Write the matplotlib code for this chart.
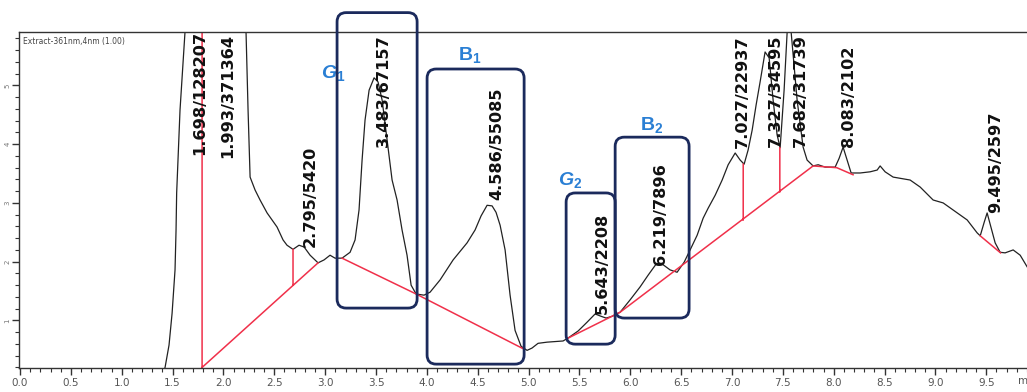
import numpy as np
import matplotlib
matplotlib.use('Agg')
import matplotlib.pyplot as plt
from matplotlib.patches import FancyBboxPatch

plt.rcParams['mathtext.fontset'] = 'custom'
plt.rcParams['mathtext.it'] = 'Liberation Sans:italic:bold'
plt.rcParams['mathtext.rm'] = 'Liberation Sans:bold'
plt.rcParams['mathtext.bf'] = 'Liberation Sans:bold'

# chromatogram trace (time in min, absorbance)
time = [1.377, 1.426, 1.465, 1.495, 1.524, 1.534, 1.54, 1.573, 1.622, 1.672,
        1.698, 1.80, 1.993, 2.193, 2.222, 2.242, 2.262, 2.311, 2.360, 2.429,
        2.527, 2.586, 2.625, 2.684, 2.743, 2.793, 2.852, 2.930, 2.989, 3.048,
        3.097, 3.166, 3.245, 3.294, 3.333, 3.363, 3.392, 3.432, 3.481, 3.520,
        3.560, 3.609, 3.658, 3.707, 3.756, 3.805, 3.845, 3.894, 3.972, 4.031,
        4.130, 4.258, 4.395, 4.474, 4.533, 4.592, 4.641, 4.680, 4.720, 4.769,
        4.818, 4.867, 4.926, 4.985, 5.034, 5.093, 5.182, 5.339, 5.388, 5.487,
        5.575, 5.654, 5.713, 5.762, 5.821, 5.900, 5.998, 6.096, 6.175, 6.254,
        6.313, 6.391, 6.460, 6.529, 6.588, 6.657, 6.716, 6.765, 6.834, 6.903,
        6.962, 7.031, 7.080, 7.119, 7.158, 7.198, 7.237, 7.276, 7.325, 7.365,
        7.404, 7.443, 7.473, 7.512, 7.542, 7.561, 7.581, 7.640, 7.699, 7.738,
        7.797, 7.847, 7.915, 8.014, 8.053, 8.092, 8.132, 8.171, 8.260, 8.358,
        8.427, 8.456, 8.505, 8.584, 8.653, 8.751, 8.850, 8.977, 9.076, 9.174,
        9.312, 9.410, 9.440, 9.479, 9.508, 9.548, 9.587, 9.636, 9.685, 9.764,
        9.833, 9.902, 9.951]
absorb = [-0.02, 0.20, 0.58, 1.12, 1.86, 2.54, 3.17, 4.58, 5.91, 7.48,
          9.5, 7.2, 9.0, 6.80, 5.91, 4.58, 3.44, 3.22, 3.05, 2.83,
          2.59, 2.37, 2.28, 2.21, 2.28, 2.25, 2.11, 1.98, 2.03, 2.11,
          2.06, 2.06, 2.16, 2.37, 2.88, 3.73, 4.41, 4.92, 5.13, 5.06,
          4.75, 4.07, 3.39, 3.05, 2.54, 2.11, 1.60, 1.45, 1.43, 1.48,
          1.69, 2.03, 2.32, 2.54, 2.78, 2.96, 2.95, 2.84, 2.62, 2.20,
          1.43, 0.83, 0.56, 0.49, 0.53, 0.61, 0.63, 0.65, 0.70, 0.82,
          0.97, 1.11, 1.07, 1.04, 1.07, 1.14, 1.35, 1.57, 1.77, 1.96,
          1.96, 1.86, 1.82, 1.99, 2.20, 2.45, 2.74, 2.91, 3.13, 3.39,
          3.65, 3.85, 3.73, 3.66, 3.90, 4.24, 4.67, 5.06, 5.57, 5.47,
          4.75, 4.16, 3.94, 4.92, 5.91, 6.97, 5.91, 4.75, 3.95, 3.73,
          3.63, 3.65, 3.61, 3.61, 3.76, 3.95, 3.73, 3.51, 3.51, 3.53,
          3.56, 3.63, 3.53, 3.44, 3.42, 3.39, 3.27, 3.05, 3.00, 2.88,
          2.71, 2.49, 2.44, 2.67, 2.83, 2.57, 2.32, 2.16, 2.15, 2.20,
          2.11, 1.91, 1.77]

# integration baselines / drop lines (NaN separates segments)
base_t = [1.79, 1.79, np.nan, 1.79, 2.93, np.nan, 2.684, 2.684, np.nan,
          3.166, 3.894, 4.956, np.nan, 5.378, 5.900, 7.797, 8.03, 8.19, np.nan,
          7.11, 7.11, np.nan, 7.47, 7.47, np.nan, 9.44, 9.64]
base_a = [0.20, 7.0, np.nan, 0.20, 1.98, np.nan, 1.60, 2.21, np.nan,
          2.06, 1.45, 0.51, np.nan, 0.69, 1.14, 3.63, 3.60, 3.48, np.nan,
          2.71, 3.66, np.nan, 3.19, 3.94, np.nan, 2.44, 2.15]

# peak labels: retention time / area
peak_rt = ['1.698', '1.993', '2.795', '3.483', '4.586', '5.643', '6.219',
           '7.027', '7.327', '7.682', '8.083', '9.495']
peak_area = ['128207', '371364', '5420', '67157', '55085', '2208', '7896',
             '22937', '34595', '31739', '2102', '2597']
label_t = [1.770, 2.045, 2.852, 3.569, 4.690, 5.723, 6.293,
           7.099, 7.424, 7.670, 8.142, 9.587]
label_a = [3.82, 3.76, 2.25, 3.95, 3.05, 1.11, 1.94,
           3.94, 3.95, 3.95, 3.95, 2.83]

# highlighted regions (t0, t1, a0, a1) and their names
box_names = [r'$G_1$', r'$\mathrm{B}_1$', r'$G_2$', r'$\mathrm{B}_2$']
box_t0 = [3.117, 4.002, 5.369, 5.851]
box_t1 = [3.904, 4.956, 5.851, 6.578]
box_a0 = [1.21, 0.256, 0.596, 1.04]
box_a1 = [6.24, 5.28, 3.17, 4.12]
name_t = [3.078, 4.425, 5.408, 6.214]
name_a = [5.21, 5.52, 3.39, 4.33]

fig = plt.figure(figsize=(10.27, 3.92), dpi=100)
ax = fig.add_axes([19 / 1027, 24 / 392, 1008 / 1027, 336 / 392])
ax.set_xlim(-0.01, 9.90)
ax.set_ylim(0.19, 5.91)

ax.plot(time, absorb, color='#222222', lw=0.9)
ax.plot(base_t, base_a, color='#f0304a', lw=1.1)

for rt, area, t, a in zip(peak_rt, peak_area, label_t, label_a):
    ax.text(t, a, f'{rt}/{area}', rotation=90, ha='center', va='bottom',
            fontsize=11.6, fontweight='bold', family='DejaVu Sans',
            color='#111111', clip_on=False)

aspect = (1008 / 9.91) / (336 / 5.72)
for t0, t1, a0, a1 in zip(box_t0, box_t1, box_a0, box_a1):
    ax.add_patch(FancyBboxPatch((t0, a0), t1 - t0, a1 - a0,
                                boxstyle='round,pad=0,rounding_size=0.09',
                                mutation_aspect=aspect, fill=False,
                                ec='#1b2a5c', lw=2, clip_on=False, zorder=5))
for name, t, a in zip(box_names, name_t, name_a):
    ax.text(t, a, name, ha='center', va='center', fontsize=14,
            color='#2a7fd4', clip_on=False)

ax.spines['right'].set_visible(False)
for s in ['left', 'bottom', 'top']:
    ax.spines[s].set_color('#333333')
    ax.spines[s].set_linewidth(1.0)

ax.set_xticks(np.arange(0, 10, 0.5))
ax.set_xticks(np.arange(0, 10, 0.1), minor=True)
ax.set_xticklabels([f'{v:.1f}' for v in np.arange(0, 10, 0.5)])
ax.set_yticks([1, 2, 3, 4, 5])
ax.set_yticks(np.arange(0.2, 5.9, 0.2), minor=True)
ax.set_yticklabels(['1', '2', '3', '4', '5'], rotation=90, va='center')
ax.tick_params(which='both', direction='out', color='#333333')
ax.tick_params(which='major', length=5, width=1)
ax.tick_params(which='minor', length=3, width=0.8)
ax.tick_params(axis='x', labelsize=7.5, labelcolor='#555555', pad=2)
ax.tick_params(axis='y', labelsize=5, labelcolor='#777777', pad=1)
# axis unit, partly outside the frame as in the original export
ax.text(9.81, -0.024, 'min', transform=ax.get_xaxis_transform(),
        ha='left', va='top', fontsize=7.5, color='#555555', clip_on=False)

ax.text(0.03, 5.75, 'Extract-361nm,4nm (1.00)', fontsize=5.5, color='#444444',
        ha='left', va='center', family='Liberation Sans Narrow')

fig.savefig('out.png', dpi=100, facecolor='white')
